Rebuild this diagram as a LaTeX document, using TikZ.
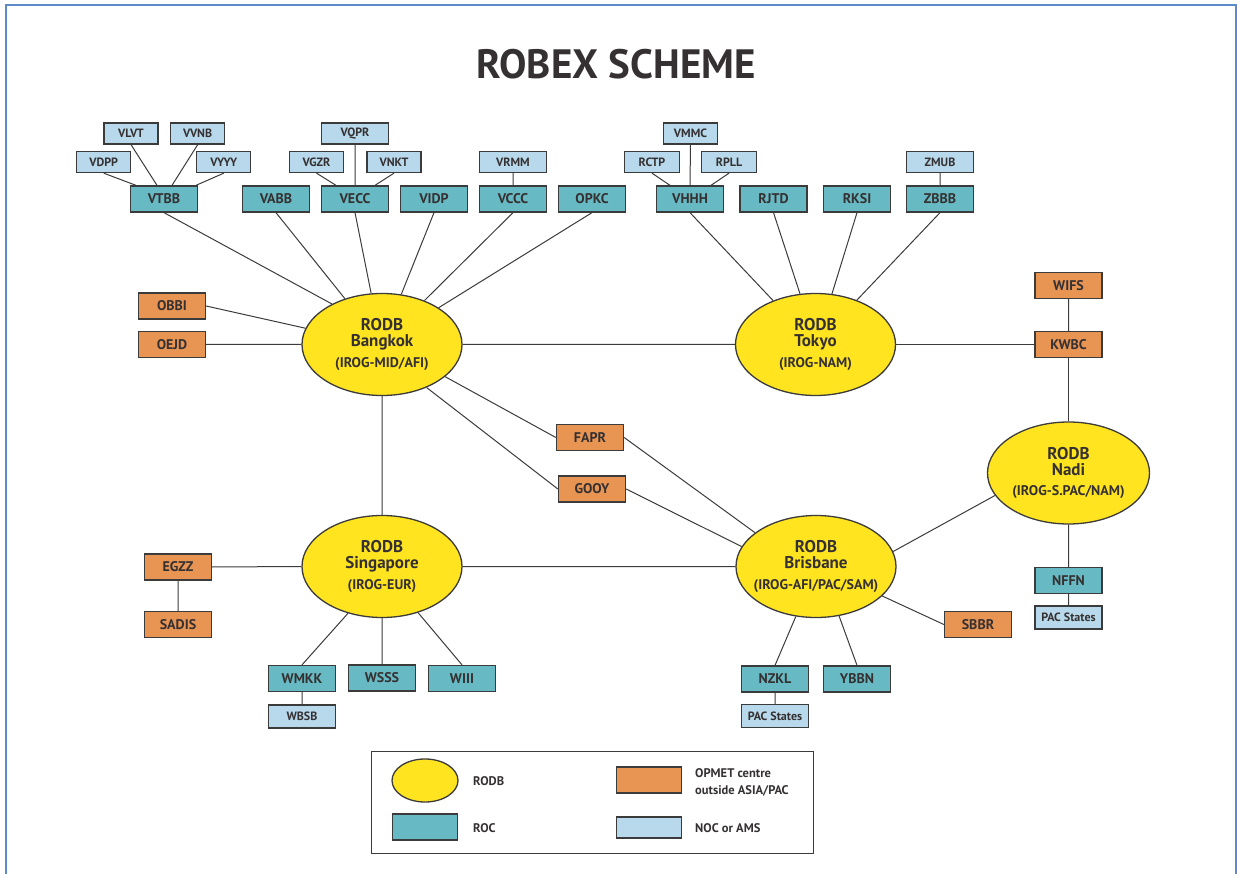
\documentclass[tikz,border=0pt]{standalone}
\usepackage{fontspec}
\setmainfont{PT Sans}
\usetikzlibrary{shapes.geometric}
\definecolor{rodbcol}{HTML}{FFE41F}
\definecolor{opmcol}{HTML}{E89453}
\definecolor{roccol}{HTML}{67BAC3}
\definecolor{noccol}{HTML}{B8D9EB}
\definecolor{edgecol}{HTML}{3B3B3B}
\definecolor{txtcol}{HTML}{353132}
\definecolor{framecol}{HTML}{5B8BC9}
\newcommand{\irog}[1]{\makebox[0pt]{\fontsize{14}{14}\selectfont(#1)}}
\begin{document}
\begin{tikzpicture}[x=1pt,y=-1pt,
	rect/.style={draw=edgecol,line width=1.3pt,inner sep=0pt,minimum width=67pt,minimum height=26pt,text=txtcol,font=\bfseries\fontsize{14}{14}\selectfont},
	roc/.style={rect,fill=roccol},
	opm/.style={rect,fill=opmcol},
	noc/.style={rect,fill=noccol,minimum height=21pt,font=\bfseries\fontsize{12}{12}\selectfont},
	rodb/.style={ellipse,draw=edgecol,line width=1.3pt,fill=rodbcol,inner sep=0pt,minimum width=160pt,minimum height=102pt,align=center,text=txtcol,font=\bfseries\fontsize{17}{15.7}\selectfont},
	key/.style={anchor=west,inner sep=0pt,align=left,text=txtcol,font=\bfseries\fontsize{12.5}{17}\selectfont},
	link/.style={draw=edgecol,line width=1pt},
	]
	\useasboundingbox (0,0) rectangle (1237,874);
	\draw [framecol,line width=2pt] (5.5,880) -- (5.5,5.5) -- (1236,5.5) -- (1236,880);
	\node [text=txtcol,font=\bfseries\fontsize{41}{41}\selectfont] (head) at (616,64.5) {ROBEX SCHEME};

	\node [noc,minimum width=54pt] (VLVT) at (131,133.5) {VLVT};
	\node [noc,minimum width=54pt] (VVNB) at (197.7,133.5) {VVNB};
	\node [noc,minimum width=54pt] (VDPP) at (103.7,162) {VDPP};
	\node [noc,minimum width=54pt] (VYYY) at (223.8,162) {VYYY};
	\node [noc] (VQPR) at (355,133.5) {VQPR};
	\node [noc,minimum width=54pt] (VGZR) at (316.5,162) {VGZR};
	\node [noc,minimum width=54pt] (VNKT) at (394,162) {VNKT};
	\node [noc] (VRMM) at (513,162) {VRMM};
	\node [noc,minimum width=54pt] (VMMC) at (690.5,133.5) {VMMC};
	\node [noc,minimum width=55pt] (RCTP) at (652,162) {RCTP};
	\node [noc,minimum width=55pt] (RPLL) at (729,162) {RPLL};
	\node [noc] (ZMUB) at (940,162) {ZMUB};

	\node [roc] (VTBB) at (164,199) {VTBB};
	\node [roc] (VABB) at (276,199) {VABB};
	\node [roc] (VECC) at (355,199) {VECC};
	\node [roc] (VIDP) at (434,199) {VIDP};
	\node [roc] (VCCC) at (513,199) {VCCC};
	\node [roc] (OPKC) at (592,199) {OPKC};
	\node [roc] (VHHH) at (690,199) {VHHH};
	\node [roc] (RJTD) at (773.5,199) {RJTD};
	\node [roc] (RKSI) at (857,199) {RKSI};
	\node [roc] (ZBBB) at (940,199) {ZBBB};

	\node [opm] (WIFS) at (1068.5,285.5) {WIFS};
	\node [opm] (KWBC) at (1068.5,344.5) {KWBC};
	\node [opm] (OBBI) at (172,306) {OBBI};
	\node [opm] (OEJD) at (172,344.5) {OEJD};
	\node [opm] (FAPR) at (590,437.5) {FAPR};
	\node [opm] (GOOY) at (592,489) {GOOY};
	\node [opm] (EGZZ) at (178,567) {EGZZ};
	\node [opm] (SADIS) at (178,624.5) {SADIS};
	\node [opm] (SBBR) at (978,624.5) {SBBR};

	\node [roc] (WMKK) at (302,678.5) {WMKK};
	\node [noc,minimum height=23pt] (WBSB) at (302,716.5) {WBSB};
	\node [roc] (WSSS) at (382,678) {WSSS};
	\node [roc] (WIII) at (462,678.5) {WIII};
	\node [roc] (NZKL) at (775,679) {NZKL};
	\node [noc,minimum height=23pt] (pacA) at (775,716) {PAC States};
	\node [roc] (YBBN) at (857,679) {YBBN};
	\node [roc] (NFFN) at (1068.5,580.5) {NFFN};
	\node [noc,minimum height=23pt] (pacB) at (1068.5,617.5) {PAC States};

	\node [rodb] (bkk) at (382,344.5) {RODB\\Bangkok\\[5pt]\irog{IROG-MID/AFI}};
	\node [rodb] (tok) at (815.5,344.5) {RODB\\Tokyo\\[5pt]\irog{IROG-NAM}};
	\node [rodb] (sin) at (382,566.5) {RODB\\Singapore\\[5pt]\irog{IROG-EUR}};
	\node [rodb] (bri) at (816,566.5) {RODB\\Brisbane\\[5pt]\irog{IROG-AFI/PAC/SAM}};
	\node [rodb,minimum width=162pt] (nadi) at (1068.5,473) {RODB\\Nadi\\[5pt]\irog{IROG-S.PAC/NAM}};

	\draw [link]
	(VDPP.south) -- ([xshift=-28pt]VTBB.north)
	(VLVT.south) -- ([xshift=-7pt]VTBB.north)
	(VVNB.south) -- ([xshift=8pt]VTBB.north)
	(VYYY.south) -- ([xshift=32pt]VTBB.north)
	(VGZR.south) -- ([xshift=-19pt]VECC.north)
	(VQPR.south) -- (VECC.north)
	(VNKT.south) -- ([xshift=20pt]VECC.north)
	(VRMM.south) -- (VCCC.north)
	(RCTP.south) -- ([xshift=-20pt]VHHH.north)
	(VMMC.south) -- (VHHH.north)
	(RPLL.south) -- ([xshift=21pt]VHHH.north)
	(ZMUB.south) -- (ZBBB.north)
	(VTBB.south) -- (bkk.141)
	(VABB.south) -- (bkk.129)
	(VECC.south) -- (bkk.102)
	(VIDP.south) -- (bkk.69)
	(VCCC.south) -- (bkk.46)
	(OPKC.south) -- (bkk.33)
	(OBBI.east) -- (bkk.168)
	(OEJD.east) -- (bkk.west)
	(bkk.333) -- (FAPR.west)
	(bkk.316) -- (GOOY.west)
	(bkk.south) -- (sin.north)
	(bkk.east) -- (tok.west)
	(VHHH.south) -- (tok.134)
	(RJTD.south) -- (tok.107)
	(RKSI.south) -- (tok.72)
	(ZBBB.south) -- (tok.47)
	(WIFS.south) -- (KWBC.north)
	(EGZZ.east) -- (sin.west)
	(EGZZ.south) -- (SADIS.north)
	(sin.234) -- (WMKK.north)
	(sin.south) -- (WSSS.north)
	(sin.308) -- (WIII.north)
	(WMKK.south) -- (WBSB.north)
	(sin.east) -- (bri.west)
	(FAPR.east) -- (bri.151)
	(GOOY.east) -- (bri.165)
	(bri.11) -- (nadi.197)
	(bri.336) -- (SBBR.west)
	(bri.248) -- (NZKL.north)
	(bri.295) -- (YBBN.north)
	(NZKL.south) -- (pacA.north)
	(nadi.south) -- (NFFN.north)
	(NFFN.south) -- (pacB.north)
	;
	\draw [link,line width=1.8pt] (tok.east) -- (KWBC.west) (KWBC.south) -- (nadi.north);

	\draw [edgecol,line width=1pt] (371,751) rectangle (813,853);
	\node [rodb,minimum width=66pt,minimum height=43pt] (kRODB) at (425,780.5) {};
	\node [roc,minimum width=65pt] (kROC) at (425,827) {};
	\node [opm,minimum width=65pt] (kOPM) at (649,780) {};
	\node [noc,minimum width=65pt] (kNOC) at (649,827.5) {};
	\node [key] (tRODB) at (473,781) {RODB};
	\node [key] (tROC) at (473,828) {ROC};
	\node [key] (tOPM) at (695,782) {OPMET centre\\outside ASIA/PAC};
	\node [key] (tNOC) at (695,828) {NOC or AMS};
\end{tikzpicture}
\end{document}
